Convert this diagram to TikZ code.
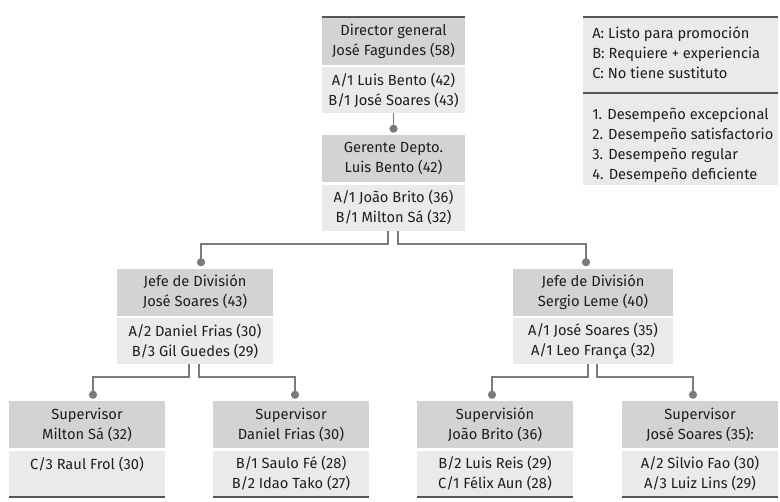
\documentclass[tikz,border=0pt]{standalone}
\usepackage{fontspec}
\setmainfont{Fira Sans}
\usetikzlibrary{arrows.meta,positioning,calc}
\definecolor{orghead}{HTML}{D3D3D3}
\definecolor{orgbody}{HTML}{EAEAEA}
\definecolor{orglink}{HTML}{7A7A7A}
\definecolor{orgrule}{HTML}{555555}
\definecolor{orgink}{HTML}{1E1E1E}
\newcommand{\orgfont}{\fontsize{11}{15}\selectfont}

\begin{document}
\begin{tikzpicture}[x=0.75pt,y=-0.75pt,
  hdr/.style={fill=orghead,minimum height=35.25pt,inner sep=0pt,
    align=center,text=orgink,font=\orgfont},
  bdy/.style={fill=orgbody,minimum height=34.5pt,inner sep=0pt,
    align=center,text=orgink,font=\orgfont,anchor=north},
  legtxt/.style={inner sep=0pt,align=left,text=orgink,font=\orgfont,anchor=west},
  link/.style={draw=orglink,line width=1.4pt,-{Circle[length=6pt]},shorten >=1.5pt},
  rule/.style={draw=orgrule,line width=1.5pt}]

  \useasboundingbox (0,0) rectangle (780,501);

  % ---- Direccion ---------------------------------------------
  \node[hdr,minimum width=107.25pt] (dirH) at (393.5,41)
    {Director general\\José Fagundes (58)};
  \node[bdy,minimum width=107.25pt] (dirB) at ($(dirH.south)+(0,2)$)
    {A/1 Luis Bento (42)\\B/1 José Soares (43)};
  \draw[rule] (dirH.north west) -- (dirH.north east);

  % ---- Gerencia ----------------------------------------------
  \node[hdr,minimum width=107.25pt] (gerH) at (393.5,158.5)
    {Gerente Depto.\\Luis Bento (42)};
  \node[bdy,minimum width=107.25pt] (gerB) at ($(gerH.south)+(0,2)$)
    {A/1 João Brito (36)\\B/1 Milton Sá (32)};

  % ---- Jefes de division -------------------------------------
  \node[hdr,minimum width=117pt] (jefLH) at (195,292)
    {Jefe de División\\José Soares (43)};
  \node[bdy,minimum width=117pt] (jefLB) at ($(jefLH.south)+(0,2)$)
    {A/2 Daniel Frias (30)\\B/3 Gil Guedes (29)};

  \node[hdr,minimum width=120pt] (jefRH) at (593,292)
    {Jefe de División\\Sergio Leme (40)};
  \node[bdy,minimum width=120pt] (jefRB) at ($(jefRH.south)+(0,2)$)
    {A/1 José Soares (35)\\A/1 Leo França (32)};

  % ---- Supervisores ------------------------------------------
  \node[hdr,minimum width=117pt] (supAH) at (87,424.5)
    {Supervisor\\Milton Sá (32)};
  \node[bdy,minimum width=117pt] (supAB) at ($(supAH.south)+(0,2)$)
    {C/3 Raul Frol (30)\\\mbox{}};

  \node[hdr,minimum width=117pt] (supBH) at (291,424.5)
    {Supervisor\\Daniel Frias (30)};
  \node[bdy,minimum width=117pt] (supBB) at ($(supBH.south)+(0,2)$)
    {B/1 Saulo Fé (28)\\B/2 Idao Tako (27)};

  \node[hdr,minimum width=117pt] (supCH) at (495,424.5)
    {Supervisión\\João Brito (36)};
  \node[bdy,minimum width=117pt] (supCB) at ($(supCH.south)+(0,2)$)
    {B/2 Luis Reis (29)\\C/1 Félix Aun (28)};

  \node[hdr,minimum width=117pt] (supDH) at (700,424.5)
    {Supervisor\\José Soares (35):};
  \node[bdy,minimum width=117pt] (supDB) at ($(supDH.south)+(0,2)$)
    {A/2 Silvio Fao (30)\\A/3 Luiz Lins (29)};

  \foreach \s in {supAB,supBB,supCB,supDB}
    \draw[rule] (\s.south west) -- (\s.south east);

  % ---- Conectores --------------------------------------------
  \draw[link] (dirB.south) -- (gerH.north);
  \draw[link] ($(gerB.south)+(-5.5,0)$) -- ++(0,13) -| ($(jefLH.north)+(6,0)$);
  \draw[link] ($(gerB.south)+(4.5,0)$) -- ++(0,13) -| ($(jefRH.north)+(-7,0)$);
  \draw[link] ($(jefLB.south)+(-6,0)$) -- ++(0,13) -| ($(supAH.north)+(6,0)$);
  \draw[link] ($(jefLB.south)+(4,0)$) -- ++(0,13) -| ($(supBH.north)+(4,0)$);
  \draw[link] ($(jefRB.south)+(-5,0)$) -- ++(0,13) -| ($(supCH.north)+(-3,0)$);
  \draw[link] ($(jefRB.south)+(4,0)$) -- ++(0,13) -| ($(supDH.north)+(-7,0)$);

  % ---- Leyenda -----------------------------------------------
  \fill[orgbody] (583,17) rectangle (778,185);
  \draw[rule] (583,17) -- (778,17);
  \draw[rule] (583,93) -- (778,93);
  \node[legtxt] (legCode) at (592,53)
    {A: Listo para promoción\\B: Requiere + experiencia\\C: No tiene sustituto};
  \node[legtxt] (legPerf) at (592,145)
    {1. Desempeño excepcional\\2. Desempeño satisfactorio\\3. Desempeño regular\\4. Desempeño deficiente};

\end{tikzpicture}
\end{document}
